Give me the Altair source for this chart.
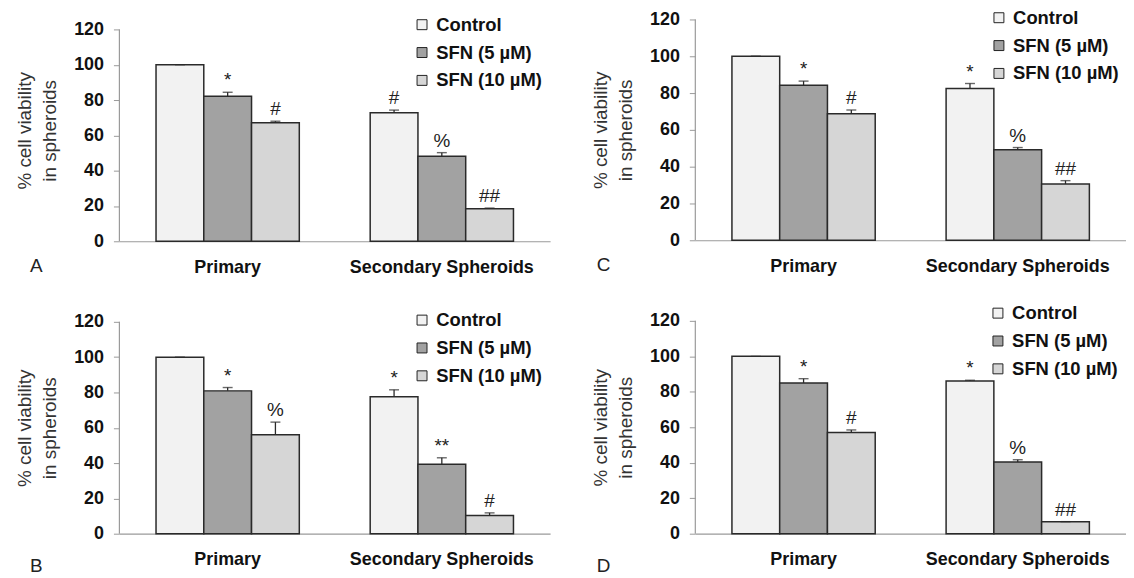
import altair as alt
import pandas as pd

groups = ["Primary", "Secondary Spheroids"]
treatments = ["Control", "SFN (5 µM)", "SFN (10 µM)"]
fills = ["#f2f2f2", "#a2a2a2", "#d6d6d6"]

# values in order: Primary (Control, 5, 10), Secondary (Control, 5, 10)
a_values = [100, 82.1, 67.2, 72.8, 48.2, 18.4]
a_errors = [0, 2.3, 0.8, 1.5, 2.0, 0.4]
a_labels = ["", "*", "#", "#", "%", "##"]

b_values = [100, 80.9, 56.1, 77.6, 39.4, 10.3]
b_errors = [0, 1.9, 7.1, 3.9, 3.6, 1.5]
b_labels = ["", "*", "%", "*", "**", "#"]

c_values = [100, 84.3, 68.8, 82.5, 49.2, 30.6]
c_errors = [0, 2.2, 2.0, 2.7, 1.2, 1.8]
c_labels = ["", "*", "#", "*", "%", "##"]

d_values = [100, 85.0, 57.0, 86.1, 40.4, 6.8]
d_errors = [0, 2.4, 1.5, 0.4, 1.3, 0.0]
d_labels = ["", "*", "#", "*", "%", "##"]

y_ticks = [0, 20, 40, 60, 80, 100, 120]
y_title = ["% cell viability", "in spheroids"]

FONT = "Liberation Sans"
AXIS_GRAY = "#9a9a9a"


def panel(values, errors, labels, letter, width, height, axis_px, lx, ly, ldx, loff):
    # axis_px: pixel length of the 0..120 axis; plot may be taller (extra room on top)
    ymax = 120 * height / axis_px
    rows = []
    i = 0
    for g in groups:
        for t in treatments:
            rows.append({"group": g, "treatment": t, "value": values[i],
                         "err": errors[i], "label": labels[i]})
            i += 1
    df = pd.DataFrame(rows)
    base = alt.Chart(df).transform_calculate(top="datum.value + datum.err").encode(
        x=alt.X("group:N", sort=groups,
                scale=alt.Scale(paddingInner=0.331, paddingOuter=0.171),
                axis=alt.Axis(title=None, labelAngle=0, ticks=False, domainColor=AXIS_GRAY,
                              domainWidth=1.2, labelFontSize=18, labelFontWeight="bold",
                              labelColor="#111", labelPadding=17, labelFont=FONT,
                              labelLimit=400)),
        xOffset=alt.XOffset("treatment:N", sort=treatments,
                            scale=alt.Scale(paddingInner=0, paddingOuter=0)),
    )
    yscale = alt.Scale(domain=[0, ymax], nice=False)
    yenc = alt.Y("value:Q", scale=yscale,
                 axis=alt.Axis(values=y_ticks, tickCount=len(y_ticks) + 2, grid=False,
                               domain=False, tickColor=AXIS_GRAY, tickSize=6, labelFontSize=18,
                               labelOverlap=False,
                               labelFontWeight="bold", labelColor="#111", labelPadding=10,
                               labelFont=FONT, title=y_title, titleFont=FONT, titleFontSize=19,
                               titleFontWeight="normal", titleColor="#333", titlePadding=14,
                               titleLineHeight=25))
    bars = base.mark_bar(stroke="#2a2a2a", strokeWidth=1.5).encode(
        y=yenc,
        fill=alt.Fill("treatment:N", sort=treatments,
                      scale=alt.Scale(domain=treatments, range=fills),
                      legend=alt.Legend(title=None, orient="none", legendX=lx,
                                        legendY=ly, padding=0,
                                        symbolType="square", symbolSize=100,
                                        symbolStrokeColor="#222", symbolStrokeWidth=1,
                                        labelFontSize=18.5, labelFontWeight="bold",
                                        labelFont=FONT, labelColor="#111", labelOffset=5,
                                        rowPadding=9, symbolOffset=0)),
    )
    # y axis line from 0 to 120
    axis_line = alt.Chart(pd.DataFrame({"lo": [y_ticks[0]], "hi": [y_ticks[-1]]})).mark_rule(
        color=AXIS_GRAY, strokeWidth=1.2).encode(
        x=alt.value(0), y=alt.Y("lo:Q", scale=yscale), y2="hi:Q")
    rule = base.mark_rule(color="#2a2a2a", strokeWidth=1.3).encode(
        y="value:Q", y2="top:Q")
    cap = base.mark_tick(color="#2a2a2a", thickness=1.4, size=10, orient="horizontal").encode(
        y="top:Q")
    text = base.mark_text(baseline="alphabetic", dy=-6, fontSize=19, font=FONT,
                          color="#222").encode(y="top:Q", text="label:N")
    return alt.layer(bars, axis_line, rule, cap, text).properties(
        width=width, height=height,
        title=alt.Title(letter, orient="bottom", anchor="start", frame="group", dx=ldx,
                        offset=loff, fontSize=19, fontWeight="normal", font=FONT, color="#222"),
    )


A = panel(a_values, a_errors, a_labels, "A", 433, 223, 213, 295, -4, -90, -19)
B = panel(b_values, b_errors, b_labels, "B", 433, 213, 213, 295, -11, -90, -12)
C = panel(c_values, c_errors, c_labels, "C", 433, 222, 222, 296, -11, -99, -19)
D = panel(d_values, d_errors, d_labels, "D", 433, 214, 214, 295, -17, -99, -12)

left = alt.vconcat(A, B, spacing=81, bounds="flush").resolve_scale(
    fill="independent").resolve_legend(fill="independent")
right = alt.vconcat(C, D, spacing=81, bounds="flush").resolve_scale(
    fill="independent").resolve_legend(fill="independent")

chart = alt.hconcat(left, right, spacing=41).resolve_scale(
    fill="independent").resolve_legend(fill="independent").configure_view(
    stroke=None).properties(padding={"left": 7, "top": -1, "right": 0, "bottom": 0},
                            background="white")

chart.save("out.html", embed_options={"renderer": "svg", "actions": False})
